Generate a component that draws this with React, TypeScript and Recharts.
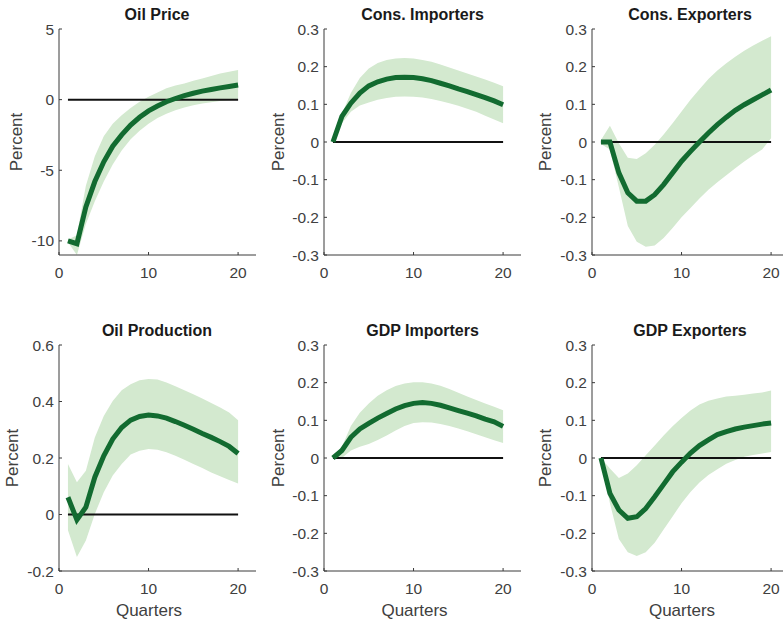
import React from 'react';
import { ComposedChart, Area, Line, XAxis, YAxis } from 'recharts';

const quarters = [1, 2, 3, 4, 5, 6, 7, 8, 9, 10, 11, 12, 13, 14, 15, 16, 17, 18, 19, 20];
const xTicks = [0, 10, 20];

const oilPriceMid = [-10, -10.2, -7.6, -5.8, -4.4, -3.3, -2.5, -1.8, -1.25, -0.8, -0.45, -0.15, 0.08, 0.28, 0.45, 0.6, 0.72, 0.83, 0.93, 1.03];
const oilPriceHi = [-9.9, -9.6, -6.1, -4.0, -2.6, -1.7, -1.1, -0.6, -0.15, 0.2, 0.5, 0.8, 1.0, 1.15, 1.33, 1.5, 1.68, 1.85, 1.98, 2.1];
const oilPriceLo = [-10.1, -11.0, -8.8, -7.2, -5.8, -4.6, -3.6, -2.8, -2.2, -1.7, -1.3, -1.0, -0.75, -0.55, -0.4, -0.28, -0.18, -0.1, -0.04, 0.0];

const consImpMid = [0, 0.068, 0.103, 0.13, 0.149, 0.16, 0.167, 0.171, 0.172, 0.171, 0.168, 0.163, 0.156, 0.149, 0.141, 0.134, 0.126, 0.118, 0.109, 0.099];
const consImpHi = [0.005, 0.075, 0.13, 0.17, 0.195, 0.21, 0.218, 0.222, 0.223, 0.222, 0.218, 0.213, 0.206, 0.198, 0.19, 0.182, 0.174, 0.166, 0.157, 0.148];
const consImpLo = [0, 0.05, 0.08, 0.097, 0.105, 0.112, 0.117, 0.12, 0.121, 0.12, 0.118, 0.114, 0.109, 0.103, 0.096, 0.088, 0.08, 0.07, 0.06, 0.05];

const consExpMid = [0, 0, -0.082, -0.135, -0.157, -0.157, -0.14, -0.113, -0.082, -0.051, -0.025, 0, 0.024, 0.046, 0.066, 0.084, 0.099, 0.112, 0.125, 0.138];
const consExpHi = [0.005, 0.043, -0.003, -0.042, -0.045, -0.03, -0.007, 0.02, 0.05, 0.081, 0.112, 0.14, 0.167, 0.19, 0.209, 0.226, 0.242, 0.256, 0.269, 0.281];
const consExpLo = [-0.005, -0.02, -0.12, -0.223, -0.265, -0.278, -0.275, -0.255, -0.228, -0.2, -0.175, -0.15, -0.127, -0.107, -0.088, -0.07, -0.052, -0.035, -0.02, 0.01];

const oilProdMid = [0.061, -0.019, 0.026, 0.132, 0.208, 0.267, 0.308, 0.334, 0.347, 0.352, 0.349, 0.341, 0.329, 0.316, 0.302, 0.287, 0.273, 0.258, 0.241, 0.216];
const oilProdHi = [0.179, 0.114, 0.155, 0.273, 0.349, 0.402, 0.44, 0.461, 0.475, 0.48, 0.478, 0.467, 0.454, 0.44, 0.426, 0.411, 0.395, 0.379, 0.361, 0.334];
const oilProdLo = [-0.056, -0.15, -0.092, 0.002, 0.079, 0.138, 0.179, 0.212, 0.226, 0.232, 0.229, 0.22, 0.208, 0.194, 0.179, 0.165, 0.149, 0.135, 0.122, 0.11];

const gdpImpMid = [0, 0.02, 0.055, 0.077, 0.092, 0.106, 0.118, 0.13, 0.139, 0.145, 0.147, 0.145, 0.14, 0.133, 0.126, 0.119, 0.112, 0.103, 0.096, 0.084];
const gdpImpHi = [0.005, 0.03, 0.085, 0.12, 0.145, 0.165, 0.18, 0.191, 0.198, 0.201, 0.201, 0.198, 0.192, 0.183, 0.173, 0.163, 0.154, 0.145, 0.136, 0.127];
const gdpImpLo = [0, 0, 0.02, 0.03, 0.037, 0.048, 0.06, 0.073, 0.085, 0.093, 0.095, 0.094, 0.09, 0.085, 0.078, 0.071, 0.063, 0.055, 0.047, 0.04];

const gdpExpMid = [0, -0.094, -0.138, -0.16, -0.156, -0.134, -0.103, -0.07, -0.037, -0.011, 0.013, 0.033, 0.048, 0.062, 0.07, 0.077, 0.082, 0.086, 0.09, 0.093];
const gdpExpHi = [0, -0.028, -0.053, -0.041, -0.019, 0.007, 0.033, 0.06, 0.084, 0.106, 0.126, 0.142, 0.152, 0.158, 0.163, 0.165, 0.168, 0.171, 0.174, 0.179];
const gdpExpLo = [0, -0.12, -0.215, -0.25, -0.26, -0.25, -0.225, -0.19, -0.155, -0.12, -0.09, -0.065, -0.045, -0.03, -0.015, -0.005, 0.003, 0.008, 0.012, 0.016];

const pctTicks3 = [-0.3, -0.2, -0.1, 0, 0.1, 0.2, 0.3];
const oilPriceTicks = [-10, -5, 0, 5];
const oilProdTicks = [-0.2, 0, 0.2, 0.4, 0.6];

const FONT = '"Liberation Sans", Arial, Helvetica, sans-serif';
const BAND = '#d3e9cf';
const LINE = '#126b30';
const AXIS = '#3a3a3a';

function build(mid: number[], hi: number[], lo: number[]) {
    return quarters.map((q, i) => ({ q, mid: mid[i], band: [lo[i], hi[i]], zero: 0 }));
}

interface PanelProps {
    title: string;
    left: number; // plot-area left
    top: number; // plot-area top
    data: any[];
    domain: [number, number];
    ticks: number[];
    fmt?: (v: number) => string;
    labelOffset: number;
    showX?: boolean;
}

const PW = 197;
const PH = 226;
const YW = 60;
const MT = 12;

function Panel({ title, left, top, data, domain, ticks, fmt, labelOffset, showX }: PanelProps) {
    const tickStyle = { fill: '#404040', fontSize: 15.5, fontFamily: FONT };
    return (
        <>
            <div style={{ position: 'absolute', left, top: top - 24, width: PW, textAlign: 'center', fontFamily: FONT, fontWeight: 'bold', fontSize: 16, color: '#1a1a1a', lineHeight: '20px' }}>
                {title}
            </div>
            <div style={{ position: 'absolute', left: left + labelOffset - 60, top: top + PH / 2 - 10, width: 120, height: 20, textAlign: 'center', transform: 'rotate(-90deg)', fontFamily: FONT, fontSize: 17, color: '#404040', lineHeight: '20px' }}>
                Percent
            </div>
            {showX && (
                <div style={{ position: 'absolute', left, top: top + PH + 30, width: PW - 16, textAlign: 'center', fontFamily: FONT, fontSize: 17, color: '#404040', lineHeight: '20px' }}>
                    Quarters
                </div>
            )}
            <div style={{ position: 'absolute', left: left - YW, top: top - MT }}>
                <ComposedChart width={YW + PW + 2} height={PH + 40 + MT} data={data} margin={{ top: MT, right: 2, bottom: 0, left: 0 }}>
                    <XAxis
                        dataKey="q"
                        type="number"
                        domain={[0, 22]}
                        ticks={xTicks}
                        height={40}
                        tickSize={-3}
                        tickMargin={15}
                        stroke={AXIS}
                        tick={tickStyle}
                        interval={0}
                    />
                    <YAxis
                        type="number"
                        domain={domain}
                        ticks={ticks}
                        width={YW}
                        tickSize={-3}
                        tickMargin={8}
                        stroke={AXIS}
                        tick={tickStyle}
                        tickFormatter={fmt}
                        interval={0}
                        allowDataOverflow
                    />
                    <Area dataKey="band" stroke="none" fill={BAND} fillOpacity={1} isAnimationActive={false} type="linear" />
                    <Line dataKey="zero" stroke="#111" strokeWidth={2} dot={false} isAnimationActive={false} />
                    <Line dataKey="mid" stroke={LINE} strokeWidth={5} dot={false} isAnimationActive={false} type="linear" />
                </ComposedChart>
            </div>
        </>
    );
}

const f1 = (v: number) => (v === 0 ? '0' : v.toFixed(1));
const f0 = (v: number) => String(v);

export default function App() {
    return (
        <div style={{ position: 'absolute', left: 0, top: 0, width: 783, height: 621, overflow: 'hidden', background: '#fff' }}>
            <Panel title="Oil Price" left={58.5} top={29} data={build(oilPriceMid, oilPriceHi, oilPriceLo)} domain={[-11, 5]} ticks={oilPriceTicks} fmt={f0} labelOffset={-41.5} />
            <Panel title="Cons. Importers" left={324} top={29} data={build(consImpMid, consImpHi, consImpLo)} domain={[-0.3, 0.3]} ticks={pctTicks3} fmt={f1} labelOffset={-45} />
            <Panel title="Cons. Exporters" left={591.5} top={29} data={build(consExpMid, consExpHi, consExpLo)} domain={[-0.3, 0.3]} ticks={pctTicks3} fmt={f1} labelOffset={-46} />
            <Panel title="Oil Production" left={58.5} top={344.5} data={build(oilProdMid, oilProdHi, oilProdLo)} domain={[-0.2, 0.6]} ticks={oilProdTicks} fmt={f1} labelOffset={-45.5} showX />
            <Panel title="GDP Importers" left={324} top={344.5} data={build(gdpImpMid, gdpImpHi, gdpImpLo)} domain={[-0.3, 0.3]} ticks={pctTicks3} fmt={f1} labelOffset={-45} showX />
            <Panel title="GDP Exporters" left={591.5} top={344.5} data={build(gdpExpMid, gdpExpHi, gdpExpLo)} domain={[-0.3, 0.3]} ticks={pctTicks3} fmt={f1} labelOffset={-46} showX />
        </div>
    );
}
